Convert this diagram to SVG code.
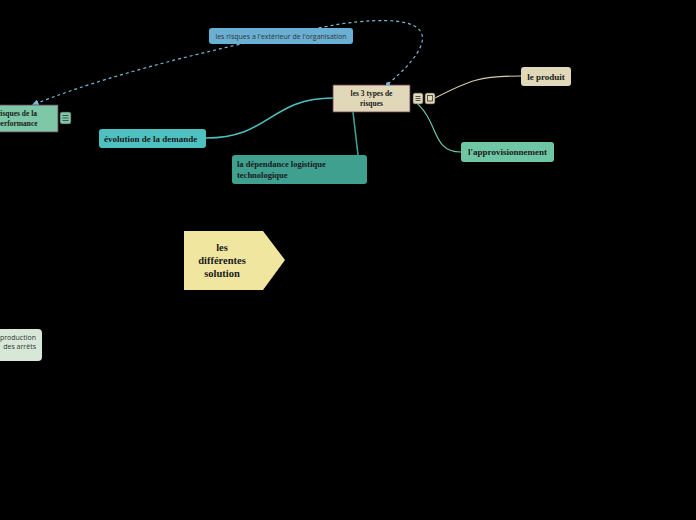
<svg xmlns="http://www.w3.org/2000/svg" width="696" height="520" viewBox="0 0 696 520">
<defs>
<style>
.t{font-family:"Liberation Serif","DejaVu Serif",serif;font-weight:bold;fill:#1a1a1a}
.s{font-family:"Open Sans","Liberation Sans",sans-serif;fill:#333}
.ic{fill:#e0d8b8;stroke:#444;stroke-width:0.6}
</style>
<marker id="arr" markerWidth="6" markerHeight="6" refX="3" refY="3" orient="auto"><path d="M0,0 L6,3 L0,6 Z" fill="#7ab8d8"/></marker>
</defs>
<rect width="696" height="520" fill="#000"/>
<g id="connectors" fill="none">
<path d="M388,84 C440,40 440,10 340,24 C250,40 120,70 35,104" stroke="#7ab8d8" stroke-width="1.2" stroke-dasharray="3,3" marker-end="url(#arr)"/>
<path d="M206,138 C270,138 270,98 333,98" stroke="#4fc0c0" stroke-width="1.6"/>
<path d="M353,112 L358,155" stroke="#3fa08f" stroke-width="1.6"/>
<path d="M413,100 C440,120 430,152 461,152" stroke="#6fc6a4" stroke-width="1.2"/>
<path d="M435,98 C470,80 480,76 521,76" stroke="#d8cca8" stroke-width="1.2"/>
</g>
<g id="label-exterieur">
<rect x="209" y="28" width="144" height="16" rx="3" fill="#6ab0d4"/>
<text class="s" x="281" y="39" font-size="7" text-anchor="middle">les risques a l'extérieur de l'organisation</text>
</g>
<g id="central">
<rect x="333" y="85" width="77" height="27" fill="#e0d8b8" stroke="#6b3a5a" stroke-width="0.8"/>
<text class="t" x="371.5" y="96" font-size="7.5" text-anchor="middle">les 3 types de</text>
<text class="t" x="371.5" y="106" font-size="7.5" text-anchor="middle">risques</text>
<circle cx="388" cy="84" r="2" fill="#7ab8d8"/>
<rect class="ic" x="413" y="93" width="10" height="11" rx="2"/>
<path d="M415.5,96.5h5M415.5,98.5h5M415.5,100.5h5" stroke="#333" stroke-width="0.8"/>
<rect class="ic" x="425" y="93" width="10" height="11" rx="2"/>
<rect x="427.5" y="95.5" width="5" height="5.5" fill="none" stroke="#333" stroke-width="0.8"/>
</g>
<g id="performance">
<rect x="-30" y="105" width="88" height="27" fill="#7ec8a8" stroke="#6b3a5a" stroke-width="0.8"/>
<text class="t" x="17" y="116" font-size="7.5" text-anchor="middle">risques de la</text>
<text class="t" x="17" y="126" font-size="7.5" text-anchor="middle">performance</text>
<rect x="60" y="112" width="11" height="12" rx="2" fill="#7ec8a8" stroke="#333" stroke-width="0.6"/>
<path d="M62.5,115.5h6M62.5,118h6M62.5,120.5h6" stroke="#333" stroke-width="0.8"/>
</g>
<g id="evolution">
<rect x="99" y="129" width="107" height="19" rx="3" fill="#4fc0c0"/>
<text class="t" x="104" y="141.5" font-size="9">évolution de la demande</text>
</g>
<g id="dependance">
<rect x="232" y="155" width="135" height="29" rx="3" fill="#3fa08f"/>
<text class="t" x="237" y="167" font-size="8.5">la dépendance logistique</text>
<text class="t" x="237" y="178" font-size="8.5">technologique</text>
</g>
<g id="produit">
<rect x="521" y="67" width="50" height="19" rx="3" fill="#e0d8b8"/>
<text class="t" x="546" y="79.5" font-size="9" text-anchor="middle">le produit</text>
</g>
<g id="approvisionnement">
<rect x="461" y="142" width="93" height="20" rx="3" fill="#6fc6a4"/>
<text class="t" x="507.5" y="155" font-size="9" text-anchor="middle">l'approvisionnement</text>
</g>
<g id="solution">
<path d="M184,231 L263,231 L285,260 L263,290 L184,290 Z" fill="#f0e6a0"/>
<text class="t" x="222" y="251" font-size="10.5" text-anchor="middle">les</text>
<text class="t" x="222" y="264" font-size="10.5" text-anchor="middle">différentes</text>
<text class="t" x="222" y="277" font-size="10.5" text-anchor="middle">solution</text>
</g>
<g id="production">
<rect x="-20" y="329" width="62" height="32" rx="4" fill="#d8e8d8"/>
<text class="s" x="36" y="340" font-size="7" text-anchor="end">production</text>
<text class="s" x="36" y="349" font-size="7" text-anchor="end">des arrêts</text>
</g>
</svg>
